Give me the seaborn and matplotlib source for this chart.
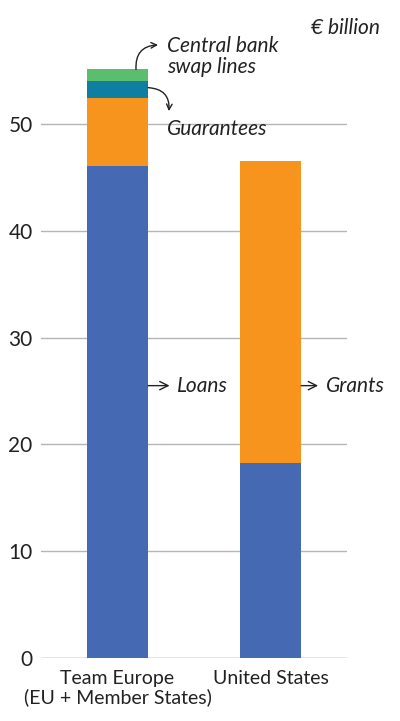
import pandas as pd
import seaborn as sns
import numpy as np
import matplotlib.pyplot as plt

# Values (EUR billion)
donors = ['Team Europe\n(EU + Member States)', 'United States']
loans = [46.1, 18.3]
guarantees_or_grants = [6.3, 28.2]   # orange: guarantees (Team Europe), grants (US)
guarantees_teal = [1.6, 0.0]
swap_lines = [1.1, 0.0]

colors = ['#4569b3', '#f7941d', '#0e7fa0', '#5bbe6e']

sns.set_style('white')
plt.rcParams['font.family'] = ['Lato', 'DejaVu Sans']

fig = plt.figure(figsize=(4, 7.21), dpi=100)
ax = fig.add_axes([0.1025, 0.0874, 0.765, 0.8888])

# Stack by drawing cumulative totals, tallest first
layers = [loans, guarantees_or_grants, guarantees_teal, swap_lines]
cum = np.cumsum(np.array(layers), axis=0)
for i in range(len(layers) - 1, -1, -1):
    df = pd.DataFrame({'donor': donors, 'value': cum[i]})
    sns.barplot(data=df, x='donor', y='value', color=colors[i], width=0.40,
                saturation=1, linewidth=0, ax=ax, zorder=2)

ax.set_xlim(-0.5, 1.5)
ax.set_ylim(0, 60)
ax.set_yticks([0, 10, 20, 30, 40, 50])
ax.yaxis.grid(True, color='#b5b5b5', linewidth=1, zorder=0)
ax.set_axisbelow(True)
ax.set_xlabel('')
ax.set_ylabel('')
for s in ax.spines.values():
    s.set_visible(False)
ax.axhline(0, color='#b5b5b5', lw=1, zorder=1)
ax.tick_params(axis='y', length=0, labelsize=15, colors='#222222', pad=6)
ax.tick_params(axis='x', length=0, labelsize=14, colors='#222222', pad=9)
for lab in ax.get_xticklabels():
    lab.set_linespacing(1.05)

tx = dict(fontsize=15, style='italic', color='#222222')
ax.text(1.716, 59.0, '€ billion', ha='right', va='center', clip_on=False, **tx)

# Straight arrows
ax.annotate('Loans', xy=(0.2, 25.5), xytext=(0.389, 25.5), va='center', **tx,
            arrowprops=dict(arrowstyle='<-', color='#222222', lw=1,
                            shrinkA=3, shrinkB=0))
ax.annotate('Grants', xy=(1.2, 25.5), xytext=(1.36, 25.5), va='center', **tx,
            arrowprops=dict(arrowstyle='<-', color='#222222', lw=1,
                            shrinkA=3, shrinkB=0))

# Curved arrows
ax.text(0.324, 49.5, 'Guarantees', va='center', **tx)
ax.annotate('', xy=(0.336, 51.2), xytext=(0.2, 53.4),
            arrowprops=dict(arrowstyle='->', color='#222222', lw=1,
                            shrinkA=0, shrinkB=0,
                            connectionstyle='arc3,rad=-0.5'))
ax.text(0.324, 56.3, 'Central bank\nswap lines', va='center', linespacing=1.05, **tx)
ax.annotate('', xy=(0.265, 57.4), xytext=(0.121, 55.1),
            arrowprops=dict(arrowstyle='->', color='#222222', lw=1,
                            shrinkA=0, shrinkB=0,
                            connectionstyle='arc3,rad=-0.5'))

fig.savefig('out.png', dpi=100)
